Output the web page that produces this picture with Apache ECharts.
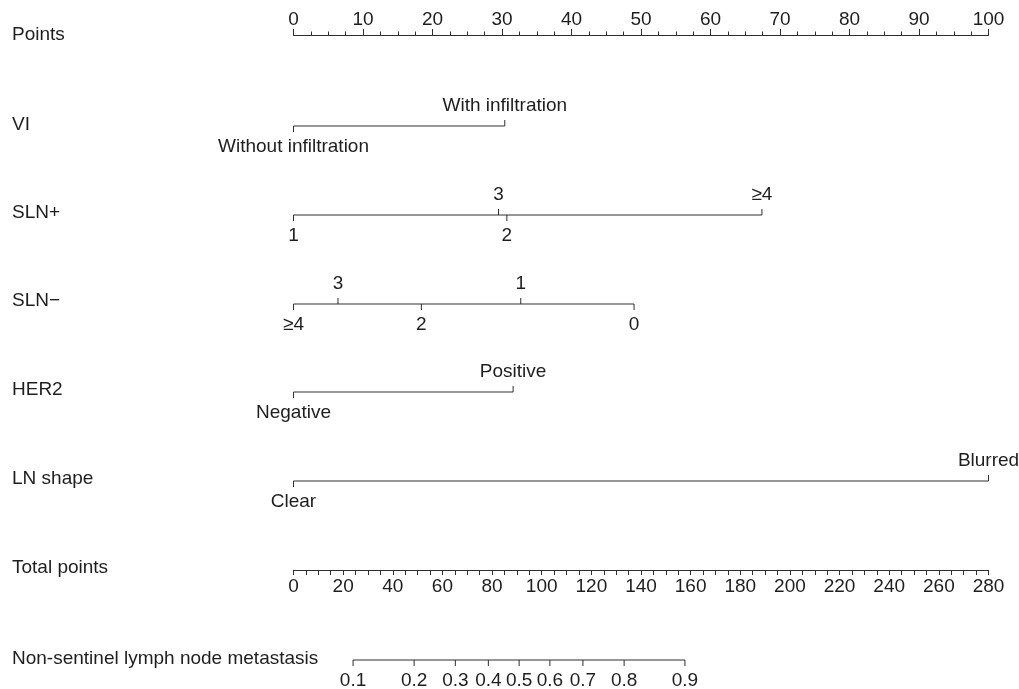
<!DOCTYPE html>
<html><head><meta charset="utf-8">
<script src="https://cdn.jsdelivr.net/npm/echarts/dist/echarts.min.js"></script>
<style>html,body{margin:0;padding:0;background:#fff}#c{width:1019px;height:689px}</style>
</head><body><div id="c"></div>
<script>
// ---- data ----
const rowNames = ['Points', 'VI', 'SLN+', 'SLN\u2212', 'HER2', 'LN shape', 'Total points', 'Non-sentinel lymph node metastasis'];
const pointsMin = 0, pointsMax = 100;
const totalMin = 0, totalMax = 280;

const viLabels = ['Without infiltration', 'With infiltration'];
const viPoints = [0, 30.4];
const viSide = ['below', 'above'];

const slnPosLabels = ['1', '2', '3', '\u22654'];
const slnPosPoints = [0, 30.7, 29.5, 67.4];
const slnPosSide = ['below', 'below', 'above', 'above'];

const slnNegLabels = ['0', '1', '2', '3', '\u22654'];
const slnNegPoints = [49.0, 32.7, 18.4, 6.4, 0];
const slnNegSide = ['below', 'above', 'below', 'above', 'below'];

const her2Labels = ['Negative', 'Positive'];
const her2Points = [0, 31.6];
const her2Side = ['below', 'above'];

const lnLabels = ['Clear', 'Blurred'];
const lnPoints = [0, 100];
const lnSide = ['below', 'above'];

const probLabels = ['0.1', '0.2', '0.3', '0.4', '0.5', '0.6', '0.7', '0.8', '0.9'];
const probTotalPoints = [24.0, 48.6, 65.2, 78.5, 90.9, 103.3, 116.6, 133.2, 157.7];
const probSide = probLabels.map(() => 'below');

// ---- layout / style ----
const FONT = "'Liberation Sans', Arial, Helvetica, sans-serif";
const FS = 19;
const TXT = '#1e1e1e';
const LINE = '#2e2e2e';
const rowY = [35, 126, 215, 304, 392, 481, 570, 660];
const labelY = [36, 126, 214, 302, 391, 480, 569, 660];
const L = 293.5, R = 1019 - 988.5;

const chart = echarts.init(document.getElementById('c'), null, {renderer: 'canvas'});

const grids = [], xAxes = [], yAxes = [], series = [];

function addGrid(y, h, xAxisOpt) {
  const i = grids.length;
  grids.push({left: L, right: R, top: y - h, height: h, containLabel: false});
  xAxes.push(Object.assign({gridIndex: i}, xAxisOpt));
  yAxes.push({gridIndex: i, type: 'value', min: 0, max: 1, show: false});
  return i;
}

// Points axis (top)
const g0 = grids.length;
grids.push({left: L, right: R, top: rowY[0], height: 10});
xAxes.push({
  gridIndex: g0, type: 'value', position: 'top', min: pointsMin, max: pointsMax, interval: 10,
  axisLine: {show: true, onZero: false, lineStyle: {color: LINE, width: 1}},
  axisTick: {show: true, length: 6, lineStyle: {color: LINE, width: 1}},
  minorTick: {show: true, splitNumber: 4, length: 3.5, lineStyle: {color: LINE, width: 1}},
  splitLine: {show: false}, minorSplitLine: {show: false},
  axisLabel: {show: true, margin: 6, color: TXT, fontSize: FS, fontFamily: FONT, showMinLabel: true, showMaxLabel: true}
});
yAxes.push({gridIndex: g0, type: 'value', min: 0, max: 1, show: false});

// Total points axis (bottom)
const gT = grids.length;
grids.push({left: L, right: R, top: rowY[6] - 10, height: 10});
xAxes.push({
  gridIndex: gT, type: 'value', position: 'bottom', min: totalMin, max: totalMax, interval: 20,
  axisLine: {show: true, onZero: false, lineStyle: {color: LINE, width: 1}},
  axisTick: {show: true, length: 5, lineStyle: {color: LINE, width: 1}},
  minorTick: {show: true, splitNumber: 4, length: 5, lineStyle: {color: LINE, width: 1}},
  splitLine: {show: false}, minorSplitLine: {show: false},
  axisLabel: {show: true, margin: 7, color: TXT, fontSize: FS, fontFamily: FONT, showMinLabel: true, showMaxLabel: true}
});
yAxes.push({gridIndex: gT, type: 'value', min: 0, max: 1, show: false});

function addRow(y, labels, values, sides, min, max) {
  const gi = addGrid(y, 10, {type: 'value', min: min, max: max, show: false});
  const lo = Math.min.apply(null, values), hi = Math.max.apply(null, values);
  series.push({
    type: 'custom', xAxisIndex: gi, yAxisIndex: gi, silent: true, clip: false,
    data: values.map((v, k) => ({value: [v, sides[k] === 'above' ? 1 : -1], name: labels[k]})),
    renderItem: function (params, api) {
      const v = api.value(0), s = api.value(1);
      const p = api.coord([v, 0]);
      const tick = 6;
      const children = [];
      if (params.dataIndex === 0) {
        const a = api.coord([lo, 0]), b = api.coord([hi, 0]);
        children.push({type: 'line', shape: {x1: a[0], y1: a[1], x2: b[0], y2: b[1]},
          style: {stroke: LINE, lineWidth: 1}});
      }
      children.push({type: 'line', shape: {x1: p[0], y1: p[1], x2: p[0], y2: p[1] - s * tick},
        style: {stroke: LINE, lineWidth: 1}});
      children.push({type: 'text', x: p[0], y: s > 0 ? p[1] - 20 : p[1] + 21,
        style: {text: labels[params.dataIndex], fill: TXT, font: FS + 'px ' + FONT,
          align: 'center', verticalAlign: 'middle'}});
      return {type: 'group', children: children};
    }
  });
}

addRow(rowY[1], viLabels, viPoints, viSide, pointsMin, pointsMax);
addRow(rowY[2], slnPosLabels, slnPosPoints, slnPosSide, pointsMin, pointsMax);
addRow(rowY[3], slnNegLabels, slnNegPoints, slnNegSide, pointsMin, pointsMax);
addRow(rowY[4], her2Labels, her2Points, her2Side, pointsMin, pointsMax);
addRow(rowY[5], lnLabels, lnPoints, lnSide, pointsMin, pointsMax);
addRow(rowY[7], probLabels, probTotalPoints, probSide, totalMin, totalMax);

const graphics = rowNames.map((n, i) => ({
  type: 'text', left: 12, top: labelY[i] - FS / 2 - 1,
  style: {text: n, fill: TXT, font: FS + 'px ' + FONT}
}));

chart.setOption({
  animation: false,
  backgroundColor: '#fff',
  grid: grids, xAxis: xAxes, yAxis: yAxes, series: series,
  graphic: graphics
});
</script></body></html>
